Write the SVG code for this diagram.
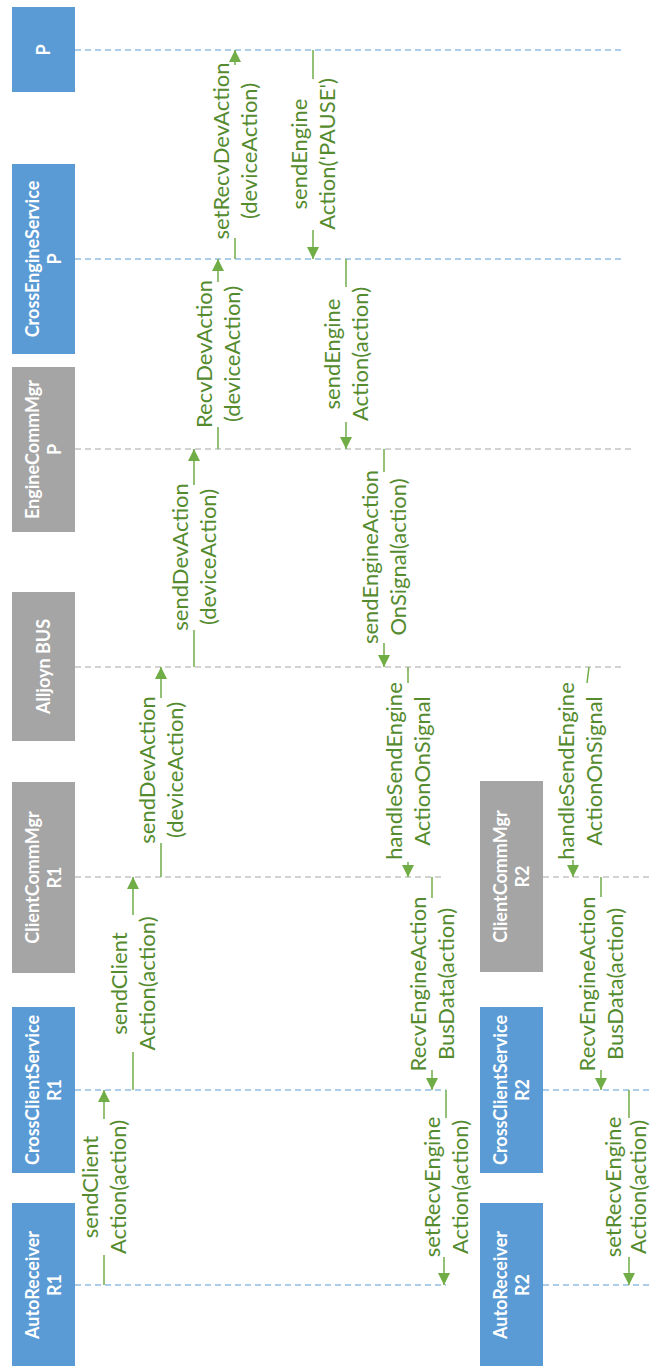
<svg xmlns="http://www.w3.org/2000/svg" width="652" height="1366" viewBox="0 0 652 1366">
<style>
.blue{fill:#5B9BD5}
.gray{fill:#A5A5A5}
.nt{font-family:Lato,"Liberation Sans",sans-serif;font-weight:bold;font-size:18px;fill:#fff;text-anchor:middle}
.lb{stroke:#5B9BD5;stroke-width:1.2;stroke-dasharray:6 4;fill:none}
.lg{stroke:#A5A5A5;stroke-width:1.2;stroke-dasharray:6 4;fill:none}
.m{stroke:#70AD47;stroke-width:1.5;fill:none}
.ma{stroke:#70AD47;stroke-width:1.5;fill:none;marker-end:url(#ah)}
.ml{font-family:Lato,"Liberation Sans",sans-serif;font-size:22px;fill:#558B2F;text-anchor:middle}
</style>
<defs>
<marker id="ah" viewBox="0 0 12 12" refX="12" refY="6" markerWidth="12" markerHeight="12" markerUnits="userSpaceOnUse" orient="auto">
<path d="M0,0 L12,6 L0,12 z" fill="#70AD47"/>
</marker>
</defs>
<rect width="652" height="1366" fill="#fff"/>
<g id="lifelines">
<line class="lb" x1="75" y1="50" x2="623" y2="50"/>
<line class="lb" x1="75" y1="259" x2="623" y2="259"/>
<line class="lg" x1="75" y1="449" x2="632" y2="449"/>
<line class="lg" x1="75" y1="667" x2="623" y2="667"/>
<line class="lg" x1="75" y1="877" x2="444" y2="877"/>
<line class="lg" x1="543" y1="877" x2="652" y2="877"/>
<line class="lb" x1="75" y1="1090" x2="446" y2="1090"/>
<line class="lb" x1="543" y1="1090" x2="652" y2="1090"/>
<line class="lb" x1="75" y1="1285" x2="446" y2="1285"/>
<line class="lb" x1="543" y1="1285" x2="652" y2="1285"/>
</g>
<g id="node-p">
<rect class="blue" x="12" y="7" width="63" height="85"/>
<text class="nt" transform="translate(43.5,50) rotate(-90)" y="6">P</text>
</g>
<g id="node-crossengineservice-p">
<rect class="blue" x="12" y="164" width="63" height="190"/>
<text class="nt" transform="translate(43.5,259) rotate(-90)"><tspan x="0" y="-5">CrossEngineService</tspan><tspan x="0" y="17">P</tspan></text>
</g>
<g id="node-enginecommmgr-p">
<rect class="gray" x="12" y="367" width="63" height="165"/>
<text class="nt" transform="translate(43.5,449.5) rotate(-90)"><tspan x="0" y="-5">EngineCommMgr</tspan><tspan x="0" y="17">P</tspan></text>
</g>
<g id="node-alljoyn-bus">
<rect class="gray" x="12" y="592" width="63" height="149"/>
<text class="nt" transform="translate(43.5,666.5) rotate(-90)" y="6">Alljoyn BUS</text>
</g>
<g id="node-clientcommmgr-r1">
<rect class="gray" x="12" y="782" width="63" height="191"/>
<text class="nt" transform="translate(43.5,877.5) rotate(-90)"><tspan x="0" y="-5">ClientCommMgr</tspan><tspan x="0" y="17">R1</tspan></text>
</g>
<g id="node-crossclientservice-r1">
<rect class="blue" x="12" y="1007" width="63" height="166"/>
<text class="nt" transform="translate(43.5,1090) rotate(-90)"><tspan x="0" y="-5">CrossClientService</tspan><tspan x="0" y="17">R1</tspan></text>
</g>
<g id="node-autoreceiver-r1">
<rect class="blue" x="12" y="1203" width="63" height="163"/>
<text class="nt" transform="translate(43.5,1285) rotate(-90)"><tspan x="0" y="-5">AutoReceiver</tspan><tspan x="0" y="17">R1</tspan></text>
</g>
<g id="node-clientcommmgr-r2">
<rect class="gray" x="480" y="781" width="63" height="191"/>
<text class="nt" transform="translate(511.5,876.5) rotate(-90)"><tspan x="0" y="-5">ClientCommMgr</tspan><tspan x="0" y="17">R2</tspan></text>
</g>
<g id="node-crossclientservice-r2">
<rect class="blue" x="480" y="1007" width="63" height="166"/>
<text class="nt" transform="translate(511.5,1090) rotate(-90)"><tspan x="0" y="-5">CrossClientService</tspan><tspan x="0" y="17">R2</tspan></text>
</g>
<g id="node-autoreceiver-r2">
<rect class="blue" x="480" y="1203" width="63" height="163"/>
<text class="nt" transform="translate(511.5,1285) rotate(-90)"><tspan x="0" y="-5">AutoReceiver</tspan><tspan x="0" y="17">R2</tspan></text>
</g>
<g id="connectors">
<line class="m" x1="104" y1="1285" x2="104" y2="1255"/>
<line class="ma" x1="104" y1="1119" x2="104" y2="1090"/>
<line class="m" x1="133" y1="1090" x2="133" y2="1052"/>
<line class="ma" x1="133" y1="915" x2="133" y2="877"/>
<line class="m" x1="161" y1="877" x2="161" y2="843"/>
<line class="ma" x1="161" y1="698" x2="161" y2="667"/>
<line class="m" x1="194" y1="667" x2="194" y2="630"/>
<line class="ma" x1="194" y1="485" x2="194" y2="449"/>
<line class="m" x1="218" y1="449" x2="218" y2="427"/>
<line class="ma" x1="218" y1="282" x2="218" y2="259"/>
<line class="m" x1="235" y1="259" x2="235" y2="238"/>
<line class="ma" x1="235" y1="65" x2="235" y2="50"/>
<line class="m" x1="313" y1="50" x2="313" y2="79"/>
<line class="ma" x1="313" y1="230" x2="313" y2="259"/>
<line class="m" x1="346" y1="259" x2="346" y2="287"/>
<line class="ma" x1="346" y1="422" x2="346" y2="449"/>
<line class="m" x1="384" y1="449" x2="384" y2="472"/>
<line class="ma" x1="384" y1="643" x2="384" y2="667"/>
<line class="m" x1="408" y1="667" x2="408" y2="683"/>
<line class="ma" x1="408" y1="862" x2="408" y2="877"/>
<line class="m" x1="589" y1="667" x2="587" y2="683"/>
<line class="ma" x1="573" y1="860" x2="573" y2="877"/>
<line class="m" x1="432" y1="877" x2="432" y2="898"/>
<line class="ma" x1="432" y1="1070" x2="432" y2="1090"/>
<line class="m" x1="601" y1="877" x2="601" y2="897"/>
<line class="ma" x1="601" y1="1070" x2="601" y2="1090"/>
<line class="m" x1="446" y1="1090" x2="446" y2="1118"/>
<line class="ma" x1="444" y1="1257" x2="444" y2="1285"/>
<line class="m" x1="629" y1="1090" x2="629" y2="1118"/>
<line class="ma" x1="629" y1="1257" x2="629" y2="1285"/>
</g>
<g id="labels">
<text class="ml" transform="translate(104,1187) rotate(-90)"><tspan x="0" y="-6.3">sendClient</tspan><tspan x="0" y="21.7">Action(action)</tspan></text>
<text class="ml" transform="translate(133,983.5) rotate(-90)"><tspan x="0" y="-6.3">sendClient</tspan><tspan x="0" y="21.7">Action(action)</tspan></text>
<text class="ml" transform="translate(161,770) rotate(-90)"><tspan x="0" y="-6.3">sendDevAction</tspan><tspan x="0" y="21.7">(deviceAction)</tspan></text>
<text class="ml" transform="translate(194,557) rotate(-90)"><tspan x="0" y="-6.3">sendDevAction</tspan><tspan x="0" y="21.7">(deviceAction)</tspan></text>
<text class="ml" transform="translate(218,354) rotate(-90)"><tspan x="0" y="-6.3">RecvDevAction</tspan><tspan x="0" y="21.7">(deviceAction)</tspan></text>
<text class="ml" transform="translate(235,151) rotate(-90)"><tspan x="0" y="-6.3">setRecvDevAction</tspan><tspan x="0" y="21.7">(deviceAction)</tspan></text>
<text class="ml" transform="translate(313,154) rotate(-90)"><tspan x="0" y="-6.3">sendEngine</tspan><tspan x="0" y="21.7">Action('PAUSE')</tspan></text>
<text class="ml" transform="translate(346,354) rotate(-90)"><tspan x="0" y="-6.3">sendEngine</tspan><tspan x="0" y="21.7">Action(action)</tspan></text>
<text class="ml" transform="translate(384,557) rotate(-90)"><tspan x="0" y="-6.3">sendEngineAction</tspan><tspan x="0" y="21.7">OnSignal(action)</tspan></text>
<text class="ml" transform="translate(408,771) rotate(-90)"><tspan x="0" y="-6.3">handleSendEngine</tspan><tspan x="0" y="21.7">ActionOnSignal</tspan></text>
<text class="ml" transform="translate(580,771) rotate(-90)"><tspan x="0" y="-6.3">handleSendEngine</tspan><tspan x="0" y="21.7">ActionOnSignal</tspan></text>
<text class="ml" transform="translate(432,984) rotate(-90)"><tspan x="0" y="-6.3">RecvEngineAction</tspan><tspan x="0" y="21.7">BusData(action)</tspan></text>
<text class="ml" transform="translate(601,984) rotate(-90)"><tspan x="0" y="-6.3">RecvEngineAction</tspan><tspan x="0" y="21.7">BusData(action)</tspan></text>
<text class="ml" transform="translate(446,1187) rotate(-90)"><tspan x="0" y="-6.3">setRecvEngine</tspan><tspan x="0" y="21.7">Action(action)</tspan></text>
<text class="ml" transform="translate(626,1187) rotate(-90)"><tspan x="0" y="-5.5">setRecvEngine</tspan><tspan x="0" y="20">Action(action)</tspan></text>
</g>
</svg>
